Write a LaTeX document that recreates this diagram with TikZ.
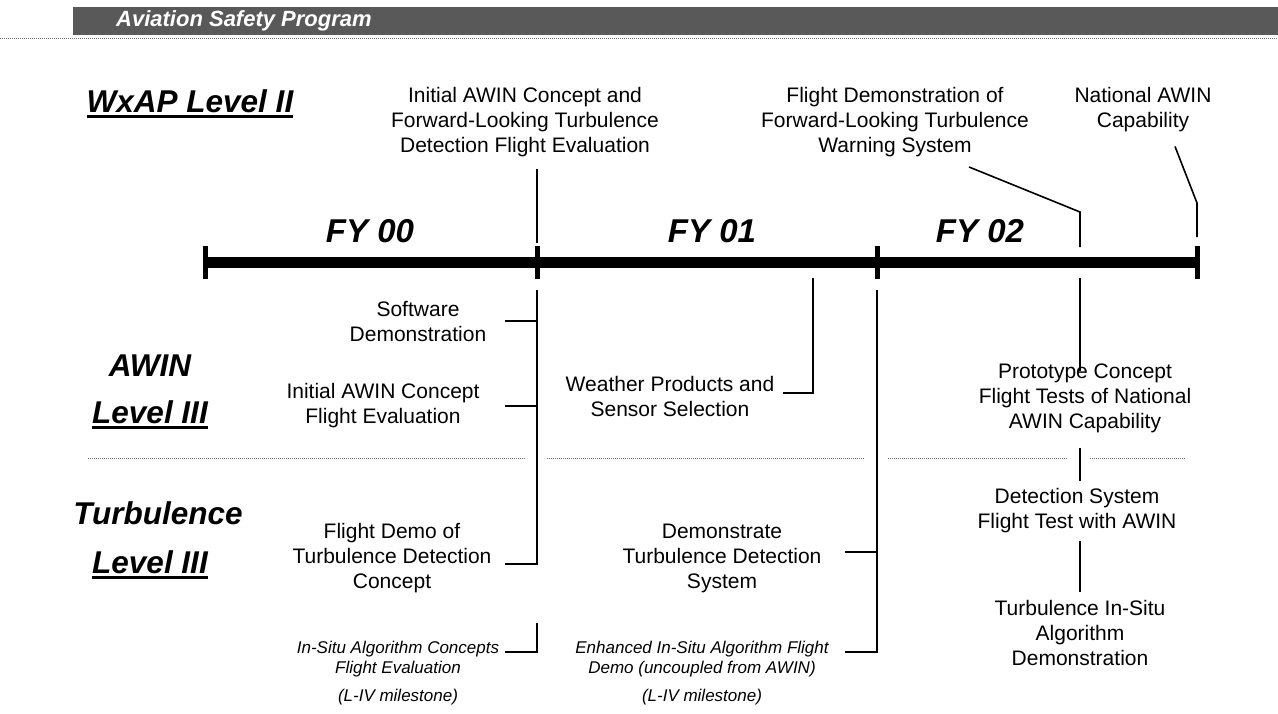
\documentclass[tikz,border=0pt]{standalone}
\usepackage{fontspec}
\setmainfont{Liberation Sans}
\begin{document}
\begin{tikzpicture}[x=1pt,y=-1pt,
  txt/.style={align=center,inner sep=0pt,font=\fontsize{21}{25}\selectfont},
  itx/.style={align=center,inner sep=0pt,font=\fontsize{17}{20.5}\selectfont\itshape},
  ttl/.style={inner sep=0pt,font=\fontsize{31.5}{34}\selectfont\bfseries\itshape},
  fy/.style={inner sep=0pt,font=\fontsize{33}{36}\selectfont\bfseries\itshape},
  conn/.style={line width=1.6pt},
  bar/.style={line width=11pt},
  tickmark/.style={line width=5pt},
  ul/.style={line width=3pt},
  sep/.style={densely dotted,line width=1pt,black!55},
]
\useasboundingbox (0,0) rectangle (1278,713);

% page header
\fill[black!65] (73,7) rectangle (1278,35);
\node[anchor=west,inner sep=0pt,text=white,font=\fontsize{22}{24}\selectfont\bfseries\itshape] (hdr) at (116,21) {Aviation Safety Program};
\draw[sep] (0,38) -- (1278,38);

% row titles
\node[ttl] (wxap) at (190,101) {WxAP Level II};
\draw[ul] ([yshift=-4pt]wxap.base west) -- ([yshift=-4pt]wxap.base east);
\node[ttl] (awin) at (150,366) {AWIN};
\node[ttl] (lvA) at (150,412) {Level III};
\draw[ul] ([yshift=-4pt]lvA.base west) -- ([yshift=-4pt]lvA.base east);
\node[ttl] (turb) at (158,513) {Turbulence};
\node[ttl] (lvT) at (150,562) {Level III};
\draw[ul] ([yshift=-4pt]lvT.base west) -- ([yshift=-4pt]lvT.base east);

% fiscal years
\node[fy] (fy0) at (370,231) {FY 00};
\node[fy] (fy1) at (712,231) {FY 01};
\node[fy] (fy2) at (980,231) {FY 02};

% time line
\coordinate (y0) at (205,262);
\coordinate (y1) at (537,262);
\coordinate (y2) at (877,262);
\coordinate (y3) at (1197,262);
\coordinate (m2) at (1080,262);
\coordinate (wp) at (813,262);
\draw[bar] (y0) -- (y3);
\foreach \p in {y0,y1,y2,y3}
  \draw[tickmark] ([yshift=16.5pt]\p) -- ([yshift=-16.5pt]\p);

% Level II milestones
\node[txt] (top1) at (525,122) {Initial AWIN Concept and\\Forward-Looking Turbulence\\Detection Flight Evaluation};
\node[txt] (top2) at (895,122) {Flight Demonstration of\\Forward-Looking Turbulence\\Warning System};
\node[txt] (top3) at (1143,110) {National AWIN\\Capability};
\coordinate (k2) at (1080,212);
\coordinate (k3) at (1197,203);
\draw[conn] ([yshift=-12pt]top1.south -| y1) -- ([yshift=19pt]y1);
\draw[conn] ([xshift=-60pt,yshift=-10pt]top2.south east) -- (k2) -- ([yshift=15pt]m2);
\draw[conn] ([xshift=32pt,yshift=-14pt]top3.south) -- (k3) -- ([yshift=25pt]y3);

% AWIN Level III
\node[txt] (sw) at (418,321) {Software\\Demonstration};
\node[txt] (iac) at (383,406) {Initial AWIN Concept\\Flight Evaluation};
\node[txt] (wps) at (670,396) {Weather Products and\\Sensor Selection};
\node[txt] (proto) at (1085,398) {Prototype Concept\\Flight Tests of National\\AWIN Capability};

% separator between the two Level III rows
\draw[sep] (88,458) -- (525,458);
\draw[sep] (547,458) -- (865,458);
\draw[sep] (888,458) -- (1068,458);
\draw[sep] (1090,458) -- (1186,458);

% Turbulence Level III
\node[txt] (fdt) at (392,558) {Flight Demo of\\Turbulence Detection\\Concept};
\node[txt] (dtd) at (722,558) {Demonstrate\\Turbulence Detection\\System};
\node[txt] (dsf) at (1077,511) {Detection System\\Flight Test with AWIN};
\node[txt] (tis) at (1080,633) {Turbulence In-Situ\\Algorithm\\Demonstration};
\node[itx] (isa) at (398,659) {In-Situ Algorithm Concepts\\Flight Evaluation};
\node[itx] (eia) at (702,659) {Enhanced In-Situ Algorithm Flight\\Demo (uncoupled from AWIN)};
\node[itx] (lv1) at (398,697) {(L-IV milestone)};
\node[itx] (lv2) at (702,697) {(L-IV milestone)};

% connectors below the time line
\draw[conn] ([yshift=-28pt]y1) -- ([yshift=-6pt]fdt.east -| y1) -- ++(-32,0);
\draw[conn] (sw.east -| y1) -- ++(-32,0);
\draw[conn] (iac.east -| y1) -- ++(-32,0);
\draw[conn] ([yshift=-30pt]fdt.south -| y1) -- ([yshift=7pt]isa.east -| y1) -- ++(-32,0);
\draw[conn] ([yshift=-16pt]wp) -- ([yshift=3pt]wps.east -| wp) -- ++(-30,0);
\draw[conn] ([yshift=-28pt]y2) -- ([yshift=7pt]eia.east -| y2) -- ++(-32,0);
\draw[conn] ([yshift=6pt]dtd.east -| y2) -- ++(-32,0);
\draw[conn] ([yshift=-16pt]m2) -- ([yshift=-8pt]proto.north -| m2);
\draw[conn] ([yshift=-15pt]proto.south -| m2) -- ([yshift=8pt]dsf.north -| m2);
\draw[conn] ([yshift=-8pt]dsf.south -| m2) -- ([yshift=8pt]tis.north -| m2);
\end{tikzpicture}
\end{document}
